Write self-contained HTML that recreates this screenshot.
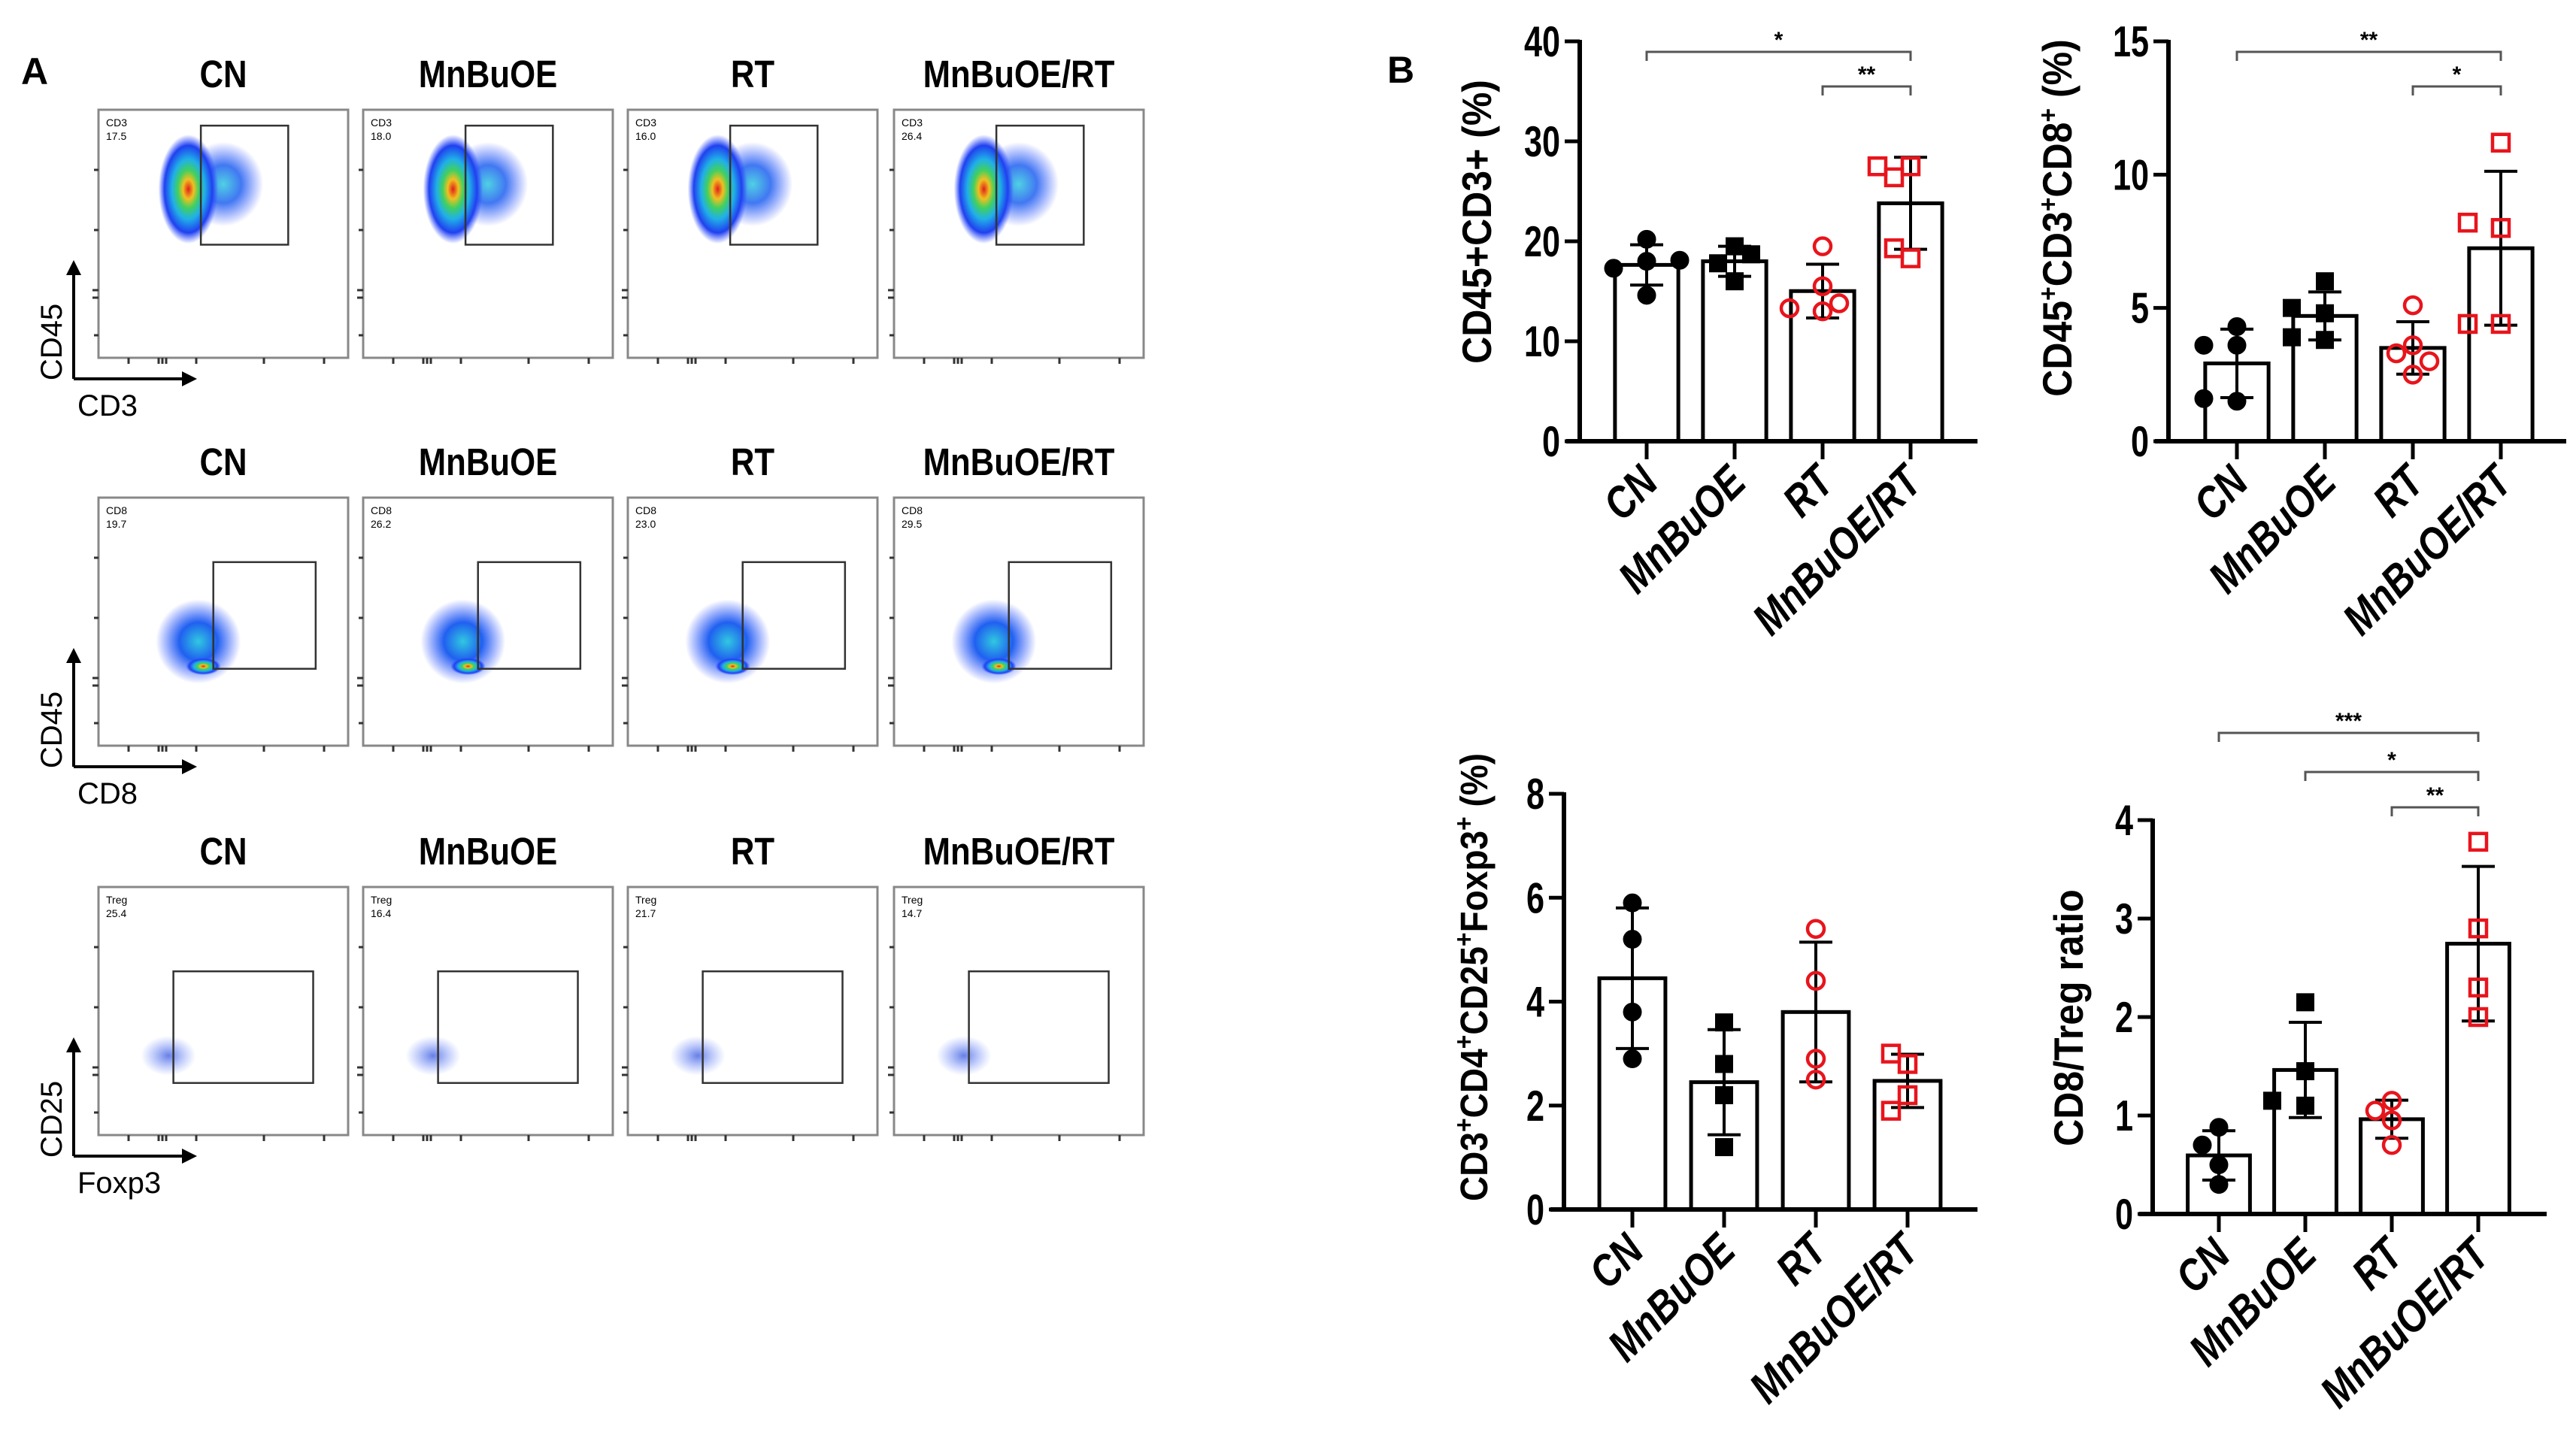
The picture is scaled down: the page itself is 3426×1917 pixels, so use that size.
<!DOCTYPE html>
<html><head><meta charset="utf-8"><style>
html,body{margin:0;padding:0;background:#fff;}
svg{display:block;font-family:"Liberation Sans",Arial,sans-serif;}
</style></head><body>
<svg id="fig" width="3426" height="1917" viewBox="0 0 3426 1917" xmlns="http://www.w3.org/2000/svg">
<defs>
<radialGradient id="blob" cx="50%" cy="50%" r="50%">
<stop offset="0" stop-color="#e0201a"/><stop offset="0.18" stop-color="#f0c020"/><stop offset="0.35" stop-color="#40d060"/><stop offset="0.55" stop-color="#20b0e8"/><stop offset="0.8" stop-color="#2040f0"/><stop offset="1" stop-color="#3050ff" stop-opacity="0"/>
</radialGradient>
<radialGradient id="blob2" cx="50%" cy="50%" r="50%">
<stop offset="0" stop-color="#30c8e0"/><stop offset="0.45" stop-color="#2060f0"/><stop offset="1" stop-color="#3050ff" stop-opacity="0"/>
</radialGradient>
<radialGradient id="blob3" cx="50%" cy="50%" r="50%">
<stop offset="0" stop-color="#4060e0" stop-opacity="0.8"/><stop offset="1" stop-color="#6080ff" stop-opacity="0"/>
</radialGradient>
</defs>
<text x="28" y="112" font-size="50" font-weight="bold">A</text>
<text x="1845" y="110" font-size="50" font-weight="bold">B</text>
<g id="flow"></g>
<g id="bars"></g>
</svg>
<script>
// ---- bar chart data ----
const categories = ["CN","MnBuOE","RT","MnBuOE/RT"];
const c1Values = [[20.2,18.0,17.3,18.1,14.6],[19.5,17.8,18.7,16.0],[19.5,15.5,13.0,13.3,13.8],[27.5,27.5,26.4,18.3,19.3]];
const c1Ticks = [0,10,20,30,40];
const c2Values = [[4.3,3.6,3.6,1.5,1.6],[6.0,4.8,5.0,3.8,3.9],[5.1,3.6,3.3,2.5,3.0],[11.2,8.0,8.2,4.4,4.4]];
const c2Ticks = [0,5,10,15];
const c3Values = [[5.9,5.2,3.8,2.9],[3.6,2.8,2.2,1.2],[5.4,4.4,2.9,2.5],[2.8,3.0,2.2,1.9]];
const c3Ticks = [0,2,4,6,8];
const c4Values = [[0.88,0.7,0.5,0.3],[2.15,1.45,1.1,1.15],[1.15,1.05,0.95,0.7],[3.78,2.9,2.3,2.0]];
const c4Ticks = [0,1,2,3,4];
const c1Sig = [[0,3,"*"],[2,3,"**"]];
const c2Sig = [[0,3,"**"],[2,3,"*"]];
const c3Sig = [];
const c4Sig = [[0,3,"***"],[1,3,"*"],[2,3,"**"]];
// flow titles / gate numbers
const flowTitles = ["CN","MnBuOE","RT","MnBuOE/RT"];
const flowGateLabels = ["CD3","CD8","Treg"];
const flowGateValues = [["17.5","18.0","16.0","26.4"],["19.7","26.2","23.0","29.5"],["25.4","16.4","21.7","14.7"]];
const flowAxes = [["CD45","CD3"],["CD45","CD8"],["CD25","Foxp3"]];

const NS="http://www.w3.org/2000/svg";
function mk(parent,tag,attrs,txt){const e=document.createElementNS(NS,tag);for(const k in attrs)e.setAttribute(k,attrs[k]);if(txt!==undefined)e.textContent=txt;parent.appendChild(e);return e;}

// ---- flow panels ----
const flow=document.getElementById('flow');
const colX=[131,483,835,1189], rowY=[146,662,1180], PW=332, PH=330;
const gates=[[0.41,0.064,0.76,0.544],[0.46,0.26,0.87,0.69],[0.30,0.34,0.86,0.79]];
for(let r=0;r<3;r++){
  for(let c=0;c<4;c++){
    const t=mk(flow,'text',{x:0,y:0,'font-size':46,'font-weight':'bold','text-anchor':'middle',transform:`translate(${colX[c]+PW/2},${rowY[r]-30}) scale(0.95,1.1)`},flowTitles[c]);
    
    
    const g=mk(flow,'g',{});
    
    
    const x=colX[c],y=rowY[r];
    const box=mk(g,'rect',{x:x,y:y,width:PW,height:PH,fill:'#fff',stroke:'#888','stroke-width':3});
    
    
    if(r==0){
      const b2=mk(g,'ellipse',{cx:x+PW*0.50,cy:y+PH*0.30,rx:PW*0.16,ry:PH*0.17,fill:'url(#blob2)',opacity:0.85});
      
      
      const b=mk(g,'ellipse',{cx:x+PW*0.36,cy:y+PH*0.32,rx:PW*0.12,ry:PH*0.22,fill:'url(#blob)'});
      
      
    } else if(r==1){
      const b=mk(g,'ellipse',{cx:x+PW*0.40,cy:y+PH*0.58,rx:PW*0.17,ry:PH*0.17,fill:'url(#blob2)'});
      
      
      const b2=mk(g,'ellipse',{cx:x+PW*0.42,cy:y+PH*0.68,rx:PW*0.07,ry:PH*0.035,fill:'url(#blob)'});
      
      
    } else {
      const b=mk(g,'ellipse',{cx:x+PW*0.28,cy:y+PH*0.68,rx:PW*0.11,ry:PH*0.08,fill:'url(#blob3)'});
      
      
    }
    const gt=gates[r];
    const gate=mk(g,'rect',{x:x+PW*gt[0],y:y+PH*gt[1],width:PW*(gt[2]-gt[0]),height:PH*(gt[3]-gt[1]),fill:'none',stroke:'#333','stroke-width':2.5});
    
    
    const gl=mk(g,'text',{x:x+10,y:y+22,'font-size':14},flowGateLabels[r]);
    
    
    const gv=mk(g,'text',{x:x+10,y:y+40,'font-size':14},flowGateValues[r][c]);
    
    
    const tk=mk(g,'path',{d:`M${x+40},${y+PH} v8 M${x+80},${y+PH} v8 M${x+85},${y+PH} v8 M${x+90},${y+PH} v8 M${x+130},${y+PH} v8 M${x+220},${y+PH} v8 M${x+300},${y+PH} v8 M${x},${y+80} h-6 M${x},${y+160} h-6 M${x},${y+240} h-8 M${x},${y+250} h-8 M${x},${y+300} h-6`,stroke:'#333','stroke-width':3});
    
    
  }
  const oy=[0,516,1034][r];
  const ax=mk(flow,'path',{d:`M98,${504+oy} V${362+oy} M98,${504+oy} H${246}`,stroke:'#000','stroke-width':4,fill:'none'});
  
  
  const ah=mk(flow,'path',{d:`M88,${366+oy} L98,${346+oy} L108,${366+oy} Z M242,${494+oy} L262,${504+oy} L242,${514+oy} Z`,fill:'#000'});
  
  
  const yl=mk(flow,'text',{x:0,y:0,'font-size':40,'text-anchor':'middle',transform:`translate(82,${455+oy}) rotate(-90)`},flowAxes[r][0]);
  
  
  const xl=mk(flow,'text',{x:103,y:553+oy,'font-size':40},flowAxes[r][1]);
  
  
}

// ---- bar charts ----
const bars=document.getElementById('bars');
const RED="#e8141c";
function chart(cfg){
  const g=mk(bars,'g',{});
  
  
  const max=cfg.ticks[cfg.ticks.length-1];
  const yS=v=>cfg.y0-(cfg.y0-cfg.yTop)*v/max;
  const xS=i=>cfg.x0+cfg.first+i*cfg.step;
  const bw=cfg.step*0.72;
  cfg.values.forEach((pts,i)=>{
    const n=pts.length, m=pts.reduce((a,b)=>a+b,0)/n;
    const sd=Math.sqrt(pts.reduce((a,b)=>a+(b-m)*(b-m),0)/(n-1));
    const cx=xS(i);
    const b=mk(g,'rect',{x:cx-bw/2,y:yS(m),width:bw,height:cfg.y0-yS(m),fill:'#fff',stroke:'#000','stroke-width':5});
    
    
    const eb=mk(g,'path',{d:`M${cx},${yS(m-sd)} V${yS(m+sd)} M${cx-22},${yS(m+sd)} h44 M${cx-22},${yS(m-sd)} h44`,stroke:'#000','stroke-width':4,fill:'none'});
    
    
    const placed=[];
    pts.forEach(v=>{
      const py=yS(v); let px=cx;
      for(const off of [0,-22,22,-44,44]){px=cx+off; if(!placed.some(p=>Math.hypot(p[0]-px,p[1]-py)<24))break;}
      placed.push([px,py]);
      let mkEl;
      const red=i>=2, sq=(i%2==1);
      if(sq) mkEl=mk(g,'rect',{x:px-11,y:py-11,width:22,height:22,fill:red?'none':'#000',stroke:red?RED:'#000','stroke-width':red?4.5:2});
      else mkEl=mk(g,'circle',{cx:px,cy:py,r:red?11:12,fill:red?'none':'#000',stroke:red?RED:'#000','stroke-width':red?4.5:1});
      
      
    });
    const tk=mk(g,'line',{x1:cx,y1:cfg.y0,x2:cx,y2:cfg.y0+24,stroke:'#000','stroke-width':5});
    
    
    const lb=mk(g,'text',{x:0,y:0,'font-size':52,'font-weight':'bold','font-style':'italic','text-anchor':'end',transform:`translate(${cx+18},${cfg.y0+58}) rotate(-45) scale(0.95,1.15)`},categories[i]);
    
    
  });
  const ax=mk(g,'path',{d:`M${cfg.x0},${cfg.yTop-2} V${cfg.y0} M${cfg.x0-18},${cfg.y0} H${cfg.xEnd}`,stroke:'#000','stroke-width':6,fill:'none'});
  
  
  cfg.ticks.forEach(t=>{
    const l=mk(g,'line',{x1:cfg.x0-20,y1:yS(t),x2:cfg.x0,y2:yS(t),stroke:'#000','stroke-width':5});
    
    
    const tx=mk(g,'text',{x:0,y:0,'font-size':48,'font-weight':'bold','text-anchor':'end',transform:`translate(${cfg.x0-26},${yS(t)+20}) scale(0.9,1.2)`},String(t));
    
    
  });
  const tl=mk(g,'text',{x:0,y:0,'font-size':cfg.tsize||48,'font-weight':'bold','text-anchor':'middle',transform:`translate(${cfg.tx},${cfg.ty}) rotate(-90) scale(1,1.1)`});
  tl.innerHTML=cfg.title;
  
  
  cfg.sig.forEach((s,k)=>{
    const ly=cfg.sigY[k], a=xS(s[0]), b=xS(s[1]);
    const p=mk(g,'path',{d:`M${a},${ly+12} V${ly} H${b} V${ly+12}`,stroke:'#555','stroke-width':3,fill:'none'});
    
    
    const st=mk(g,'text',{x:(a+b)/2,y:ly-6,'font-size':30,'font-weight':'bold','text-anchor':'middle'},s[2]);
    
    
  });
}
const SUP='<tspan baseline-shift="super" font-size="32">+</tspan>';
chart({name:'chart-cd45-cd3',values:c1Values,ticks:c1Ticks,x0:2101,yTop:55,y0:587,first:89,step:117,xEnd:2630,tx:1983,ty:295,sig:c1Sig,sigY:[69,115],
  title:'CD45+CD3+ (%)',tsize:50});
chart({name:'chart-cd8',values:c2Values,ticks:c2Ticks,x0:2884,yTop:55,y0:587,first:91,step:117,xEnd:3413,tx:2755,ty:290,sig:c2Sig,sigY:[69,115],
  title:'CD45'+SUP+'CD3'+SUP+'CD8'+SUP+' (%)',tsize:50});
chart({name:'chart-treg',values:c3Values,ticks:c3Ticks,x0:2080,yTop:1056,y0:1609,first:91,step:122,xEnd:2630,tx:1978,ty:1300,sig:c3Sig,sigY:[],
  title:'CD3'+SUP+'CD4'+SUP+'CD25'+SUP+'Foxp3'+SUP+' (%)',tsize:46});
chart({name:'chart-cd8-treg-ratio',values:c4Values,ticks:c4Ticks,x0:2863,yTop:1091,y0:1615,first:88,step:115,xEnd:3387,tx:2770,ty:1354,sig:c4Sig,sigY:[975,1027,1074],
  title:'CD8/Treg ratio',tsize:50});
</script>
</body></html>
